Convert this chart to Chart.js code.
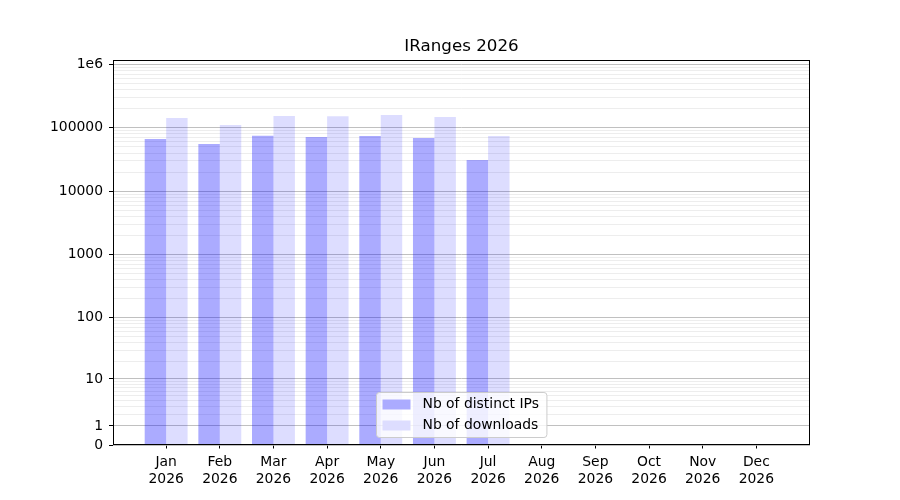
<!DOCTYPE html>
<html>
<head>
<meta charset="utf-8">
<title>IRanges 2026</title>
<script src="https://cdn.jsdelivr.net/npm/chart.js@4.4.1/dist/chart.umd.min.js"></script>
<style>
  html, body { margin: 0; padding: 0; background: #fff; }
</style>
</head>
<body>
<canvas id="chart" width="900" height="500"></canvas>
<script>
const chartTitle = 'IRanges 2026';
const months = ['Jan', 'Feb', 'Mar', 'Apr', 'May', 'Jun', 'Jul', 'Aug', 'Sep', 'Oct', 'Nov', 'Dec'];
const year = '2026';
const ipLabel = 'Nb of distinct IPs';
const dlLabel = 'Nb of downloads';
const distinctIPs = [66700, 55600, 75100, 71600, 74300, 69100, 31100];
const downloads = [142600, 110700, 153500, 152000, 159100, 148000, 74300];
const yMajorTicks = [0, 1, 10, 100, 1000, 10000, 100000, 1000000];
const yMax = 1170000;

// minor ticks 2..9 inside each decade
const yMinorTicks = [];
yMajorTicks.slice(1, -1).forEach(d => {
    for (let k = 2; k <= 9; k++) yMinorTicks.push(k * d);
});

const font = 'DejaVu Sans';
Chart.defaults.font.family = font;
Chart.defaults.color = '#000';

// y axis spaced on log10(1 + v), like the original plot
class Log1pScale extends Chart.LinearScale {
    determineDataLimits() {
        this.min = this.options.min ?? 0;
        this.max = this.options.max;
    }
    buildTicks() {
        const ticks = yMajorTicks.map(v => ({ value: v, major: true }))
            .concat(yMinorTicks.map(v => ({ value: v, major: false })));
        return ticks.sort((a, b) => a.value - b.value);
    }
    getPixelForValue(value) {
        const lo = Math.log10(1 + this.min);
        const hi = Math.log10(1 + this.max);
        return this.getPixelForDecimal((Math.log10(1 + value) - lo) / (hi - lo));
    }
    getValueForPixel(pixel) {
        const lo = Math.log10(1 + this.min);
        const hi = Math.log10(1 + this.max);
        return Math.pow(10, lo + this.getDecimalForPixel(pixel) * (hi - lo)) - 1;
    }
}
Log1pScale.id = 'log1p';
Chart.register(Log1pScale);

const framePlugin = {
    id: 'frameAndLegend',
    afterDatasetsDraw(chart) {
        const { ctx, chartArea } = chart;
        ctx.save();
        // axes frame
        ctx.strokeStyle = '#000';
        ctx.lineWidth = 1;
        const l = Math.round(chartArea.left) + 0.5, r = Math.round(chartArea.right) - 0.5;
        const t = Math.round(chartArea.top) + 0.5, b = Math.round(chartArea.bottom) - 0.5;
        ctx.strokeRect(l, t, r - l, b - t);

        // legend inside the plot, lower centre
        ctx.font = '13.9px "' + font + '"';
        const items = chart.data.datasets;
        const tw = Math.max(...items.map(d => ctx.measureText(d.label).width));
        const pad = 6, handleW = 28, handleH = 10, gap = 12, rowH = 21;
        const w = pad + handleW + gap + tw + 8;
        const h = 45;
        const x = Math.round((chartArea.left + chartArea.right) / 2 - w / 2) + 0.5;
        const y = Math.round(chartArea.bottom - 8 - h) + 0.5;
        ctx.beginPath();
        if (ctx.roundRect) ctx.roundRect(x, y, w, h, 3); else ctx.rect(x, y, w, h);
        ctx.fillStyle = 'rgba(255,255,255,0.8)';
        ctx.fill();
        ctx.strokeStyle = '#cccccc';
        ctx.stroke();
        items.forEach((d, i) => {
            const cy = y + 12 + i * rowH;
            ctx.fillStyle = '#fff';
            ctx.fillRect(x + pad, cy - handleH / 2, handleW, handleH);
            ctx.fillStyle = d.backgroundColor;
            ctx.fillRect(x + pad, cy - handleH / 2, handleW, handleH);
            ctx.fillStyle = '#000';
            ctx.textBaseline = 'middle';
            ctx.textAlign = 'left';
            ctx.fillText(d.label, x + pad + handleW + gap, cy);
        });
        ctx.restore();
    }
};

new Chart(document.getElementById('chart').getContext('2d'), {
    type: 'bar',
    data: {
        datasets: [{
            label: ipLabel,
            data: distinctIPs.map((v, i) => ({ x: i, y: v })),
            backgroundColor: 'rgba(0, 0, 255, 0.33)',
            borderWidth: 0
        }, {
            label: dlLabel,
            data: downloads.map((v, i) => ({ x: i, y: v })),
            backgroundColor: 'rgba(0, 0, 255, 0.134)',
            borderWidth: 0
        }]
    },
    options: {
        responsive: false,
        animation: false,
        layout: { padding: { left: 23, right: 0, top: 0, bottom: 0 } },
        datasets: { bar: { barPercentage: 1.0, categoryPercentage: 0.8 } },
        plugins: {
            legend: { display: false },
            tooltip: { enabled: false },
            title: {
                display: true,
                text: chartTitle,
                font: { size: 16.7, weight: 'normal', family: font },
                color: '#000',
                padding: { top: 37, bottom: 3 }
            }
        },
        scales: {
            x: {
                type: 'linear',
                min: -1,
                max: 12,
                offset: false,
                border: { display: false },
                grid: { offset: false, drawOnChartArea: false, drawTicks: true, tickLength: 3.5, color: '#000', lineWidth: 1 },
                ticks: {
                    stepSize: 1,
                    autoSkip: false,
                    maxRotation: 0,
                    padding: 5.5,
                    font: { size: 13.9 },
                    callback: v => months[v] ? [months[v], year] : ''
                },
                afterBuildTicks: s => { s.ticks = s.ticks.filter(t => t.value >= 0 && t.value < months.length); },
                afterFit: s => { s.height = 55; }
            },
            y: {
                type: 'log1p',
                min: 0,
                max: yMax,
                border: { display: false },
                grid: {
                    color: c => (c.tick && c.tick.major) ? '#b0b0b0' : '#e8e8e8',
                    lineWidth: 0.8,
                    tickLength: 3.5,
                    tickColor: c => (c.tick && c.tick.major) ? '#000' : 'rgba(0,0,0,0)',
                    tickWidth: 1
                },
                ticks: {
                    autoSkip: false,
                    padding: 6,
                    font: { size: 13.9 },
                    callback: (v, i, ticks) => ticks[i].major ? (v === 1000000 ? '1e6' : String(v)) : ''
                },
                afterFit: s => { s.width = 89.5; }
            },
            right: {
                type: 'linear',
                position: 'right',
                display: true,
                border: { display: false },
                grid: { display: false },
                ticks: { display: false },
                afterFit: s => { s.width = 90; }
            }
        }
    },
    plugins: [framePlugin]
});
</script>
</body>
</html>
